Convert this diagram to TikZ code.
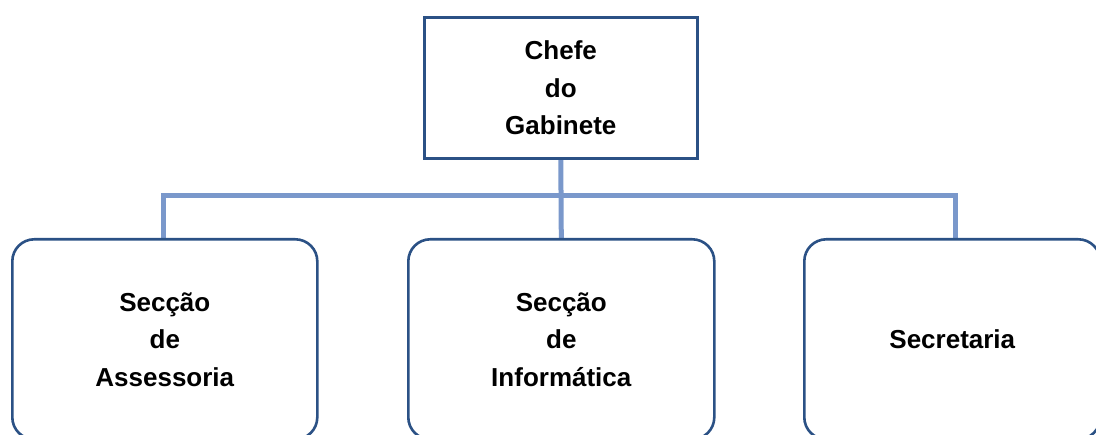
\documentclass[tikz,border=0pt]{standalone}
\usepackage{fontspec}
\setmainfont{Liberation Sans}
\usetikzlibrary{backgrounds}
\definecolor{boxline}{HTML}{2B5185}
\definecolor{connline}{HTML}{7A98CB}
\begin{document}
\begin{tikzpicture}[x=1pt,y=-1pt,
  box/.style={draw=boxline,line width=2.6pt,fill=white,align=center,
    font=\bfseries\fontsize{26}{37.5}\selectfont,inner sep=0pt,anchor=north west},
  conn/.style={draw=connline,line width=5pt}]
\useasboundingbox (0,0) rectangle (1096,435);
\clip (0,0) rectangle (1096,435);
\coordinate (busL) at (163,196);
\coordinate (busR) at (955,196);
\node[box,minimum width=273pt,minimum height=141pt] (chefe) at (423,16) {Chefe\\do\\Gabinete};
\node[box,rounded corners=22pt,minimum width=305pt,minimum height=200pt] (assess) at (11,238) {Secção\\de\\Assessoria};
\node[box,rounded corners=22pt,minimum width=306pt,minimum height=200pt] (info) at (407,238) {Secção\\de\\Informática};
\node[box,rounded corners=22pt,minimum width=296pt,minimum height=200pt] (secr) at (803,238) {Secretaria};
\begin{scope}[on background layer]
\draw[conn] (chefe.south) -- (info.north);
\draw[conn] (assess.north -| busL) -- (busL) -- (busR) -- (secr.north -| busR);
\end{scope}
\end{tikzpicture}
\end{document}
